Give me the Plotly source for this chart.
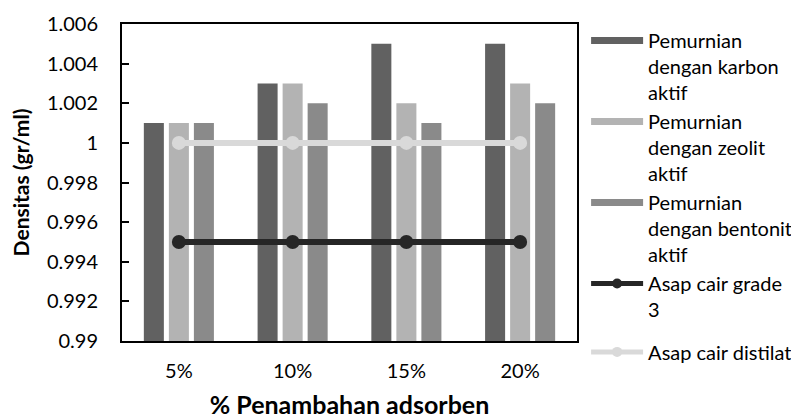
import plotly.graph_objects as go

categories = ["5%", "10%", "15%", "20%"]
karbon = [1.001, 1.003, 1.005, 1.005]
zeolit = [1.001, 1.003, 1.002, 1.003]
bentonit = [1.001, 1.002, 1.001, 1.002]
grade3 = [0.995, 0.995, 0.995, 0.995]
distilat = [1.000, 1.000, 1.000, 1.000]

y_ticks = [0.99, 0.992, 0.994, 0.996, 0.998, 1.0, 1.002, 1.004, 1.006]
y_tick_text = ["0.99", "0.992", "0.994", "0.996", "0.998", "1", "1.002", "1.004", "1.006"]

names = ["Pemurnian<br>dengan karbon<br>aktif",
         "Pemurnian<br>dengan zeolit<br>aktif",
         "Pemurnian<br>dengan bentonit<br>aktif"]
bar_colors = ["#616161", "#b3b3b3", "#8a8a8a"]

FONT = "Lato, Carlito, Calibri, sans-serif"
fig = go.Figure()

for vals, nm, col in zip([karbon, zeolit, bentonit], names, bar_colors):
    fig.add_trace(go.Bar(x=categories, y=vals, marker=dict(color=col, line=dict(width=0)),
                         showlegend=False, name=nm))

fig.add_trace(go.Scatter(x=categories, y=distilat, mode="lines+markers",
                         line=dict(color="#d9d9d9", width=6),
                         marker=dict(size=14, color="#d9d9d9"),
                         name="Asap cair distilat", showlegend=False))
fig.add_trace(go.Scatter(x=categories, y=grade3, mode="lines+markers",
                         line=dict(color="#262626", width=6),
                         marker=dict(size=14, color="#262626"),
                         name="Asap cair grade<br>3", showlegend=False))

# legend entries (no data drawn)
for nm, col in zip(names, bar_colors):
    fig.add_trace(go.Scatter(x=[None], y=[None], mode="lines",
                             line=dict(color=col, width=7), name=nm, legend="legend"))
fig.add_trace(go.Scatter(x=[None], y=[None], mode="lines+markers",
                         line=dict(color="#262626", width=5),
                         marker=dict(size=10, color="#262626"),
                         name="Asap cair grade<br>3", legend="legend"))
fig.add_trace(go.Scatter(x=[None], y=[None], mode="lines+markers",
                         line=dict(color="#d9d9d9", width=5),
                         marker=dict(size=10, color="#d9d9d9"),
                         name="Asap cair distilat", legend="legend2"))

fig.update_layout(
    width=791, height=419,
    margin=dict(l=122, r=214, t=21, b=78, autoexpand=False),
    paper_bgcolor="white", plot_bgcolor="white",
    font=dict(family=FONT, size=20, color="#000000"),
    barmode="group", bargap=0.34, bargroupgap=0.2,
    legend=dict(x=1.02, y=1.0, xanchor="left", yanchor="top", valign="top",
                itemwidth=52, tracegroupgap=0, font=dict(size=20),
                bgcolor="rgba(0,0,0,0)", traceorder="normal"),
    legend2=dict(x=1.02, y=-0.034, xanchor="left", yanchor="middle", valign="top",
                 itemwidth=52, font=dict(size=20), bgcolor="rgba(0,0,0,0)"),
    xaxis=dict(showline=True, linecolor="#000", linewidth=2, mirror=True,
               ticks="", ticklabelstandoff=11, automargin=False,
               title=dict(text="<b>% Penambahan adsorben</b>", font=dict(size=25), standoff=17)),
    yaxis=dict(range=[0.99, 1.006], tickvals=y_ticks, ticktext=y_tick_text,
               domain=[0, 317 / 320],
               showline=True, linecolor="#000", linewidth=2, mirror=True,
               ticks="inside", ticklen=7, tickwidth=1.5, tickcolor="#000",
               showgrid=False, zeroline=False, ticklabelstandoff=18, automargin=False,
               title=dict(text="<b>Densitas (gr/ml)</b>", font=dict(size=21), standoff=12)),
)

fig.write_html("out.html", post_script="document.body.style.margin='0';",
               config={"displayModeBar": False})
